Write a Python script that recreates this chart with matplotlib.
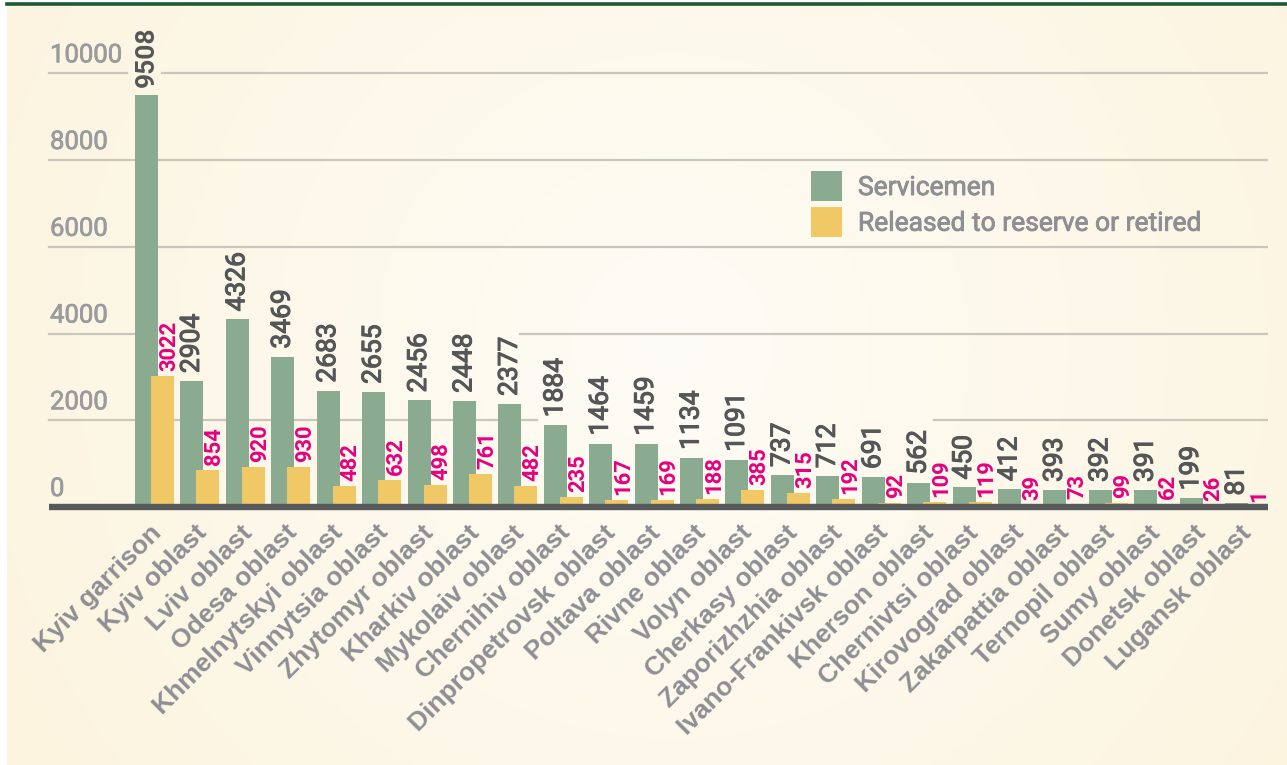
import numpy as np
import matplotlib
matplotlib.use("Agg")
import matplotlib.pyplot as plt
from matplotlib.lines import Line2D
import matplotlib.patheffects as pe

categories = ["Kyiv garrison", "Kyiv oblast", "Lviv oblast", "Odesa oblast",
              "Khmelnytskyi oblast", "Vinnytsia oblast", "Zhytomyr oblast",
              "Kharkiv oblast", "Mykolaiv oblast", "Chernihiv oblast",
              "Dinpropetrovsk oblast", "Poltava oblast", "Rivne oblast",
              "Volyn oblast", "Cherkasy oblast", "Zaporizhzhia oblast",
              "Ivano-Frankivsk oblast", "Kherson oblast", "Chernivtsi oblast",
              "Kirovograd oblast", "Zakarpattia oblast", "Ternopil oblast",
              "Sumy oblast", "Donetsk oblast", "Lugansk oblast"]
servicemen = [9508, 2904, 4326, 3469, 2683, 2655, 2456, 2448, 2377, 1884,
              1464, 1459, 1134, 1091, 737, 712, 691, 562, 450, 412, 393,
              392, 391, 199, 81]
released = [3022, 854, 920, 930, 482, 632, 498, 761, 482, 235, 167, 169,
            188, 385, 315, 192, 92, 109, 119, 39, 73, 99, 62, 26, 1]
yticks = [0, 2000, 4000, 6000, 8000, 10000]
series_names = ["Servicemen", "Released to reserve or retired"]

W, H = 1287, 765
fig = plt.figure(figsize=(W / 100, H / 100), dpi=100)
fig.patch.set_facecolor("white")

# background radial gradient
BX0, BY0 = 7, 5
c_in = np.array([254, 252, 246]) / 255
c_out = np.array([252, 244, 222]) / 255
cx, cy = 0.52, 0.45
bg = fig.add_axes([BX0 / W, 0, (W - BX0) / W, 1 - BY0 / H])
bg.set_axis_off()
yy, xx = np.mgrid[0:300, 0:500]
d = np.sqrt((xx / 499 - cx) ** 2 + ((yy / 299 - cy) * 0.6) ** 2)
d = np.clip(d / 0.62, 0, 1)[..., None]
img = c_in * (1 - d) + c_out * d
bg.imshow(img, aspect="auto", extent=[0, 1, 0, 1], origin="upper")
bg.set_xlim(0, 1)
bg.set_ylim(0, 1)

# top dark green line
fig.add_artist(Line2D([BX0 / W, 1], [1 - 4 / H, 1 - 4 / H], color="#1d5a32",
                      lw=2.6, transform=fig.transFigure))

# main axes: 0 at y=507px, 10000 at 73.3px
zero_px, top_px = 507, 20
scale = (507 - 73.3) / 10000
left_px, right_px = 47, 1268
ax = fig.add_axes([left_px / W, (H - zero_px) / H, (right_px - left_px) / W,
                   (zero_px - top_px) / H])
ax.patch.set_alpha(0)
ax.set_ylim(0, (zero_px - top_px) / scale)
step = 45.42
g0 = 146.5
ax.set_xlim(-(g0 - left_px) / step, (right_px - g0) / step)
for s in ax.spines.values():
    s.set_visible(False)
ax.set_xticks([])
ax.set_yticks([])


def fx(px):
    return (px - left_px) / (right_px - left_px)


def medium(color, lw=0.6):
    return [pe.withStroke(linewidth=lw, foreground=color)]


# gridlines (with the gaps seen in the design)
grid_segments = {2000: [(49, 537), (934, 1268)],
                 4000: [(49, 135), (520, 1268)],
                 6000: [(49, 1268)],
                 8000: [(49, 1268)],
                 10000: [(49, 127), (162, 1268)]}
for v in yticks[1:]:
    for a, b in grid_segments[v]:
        ax.axhline(v, xmin=fx(a), xmax=fx(b), color="#c9c6bd", lw=1.6, zorder=1)
tick_c = "#9a9b9e"
for v in yticks:
    ax.annotate(f"{v}", xy=(0, v), xycoords=("axes fraction", "data"),
                xytext=(3 * 0.72, 6 * 0.72), textcoords="offset points",
                ha="left", va="bottom", fontsize=18.5, family="Roboto",
                color=tick_c, zorder=2, path_effects=medium(tick_c, 0.5))

x = np.arange(len(categories))
bw = 23 / step
off = 16 / step
green = "#8aab8f"
yellow = "#f0c866"

b1 = ax.bar(x, servicemen, width=bw, color=green, zorder=3, label=series_names[0])
b2 = ax.bar(x + off, released, width=bw, color=yellow, zorder=4, label=series_names[1])

val_c = "#555658"
for i in range(len(categories)):
    ax.annotate(f"{servicemen[i]}", xy=(x[i], servicemen[i]),
                xytext=(0, 8 * 0.72), textcoords="offset points",
                rotation=90, ha="center", va="bottom", fontsize=19,
                family="Roboto", weight="bold" if i == 0 else "normal",
                color=val_c, zorder=5,
                path_effects=None if i == 0 else medium(val_c, 0.8))
    ax.annotate(f"{released[i]}", xy=(x[i] + off, released[i]),
                xytext=(6.5 * 0.72, 5 * 0.72), textcoords="offset points",
                rotation=90, ha="center", va="bottom", fontsize=15.8,
                family="Roboto", weight="bold", color="#e6007e", zorder=6)
    ax.annotate(categories[i], xy=(x[i] + off / 2, 0),
                xytext=(3 * 0.72, -22 * 0.72), textcoords="offset points",
                rotation=45, rotation_mode="anchor", ha="right", va="center",
                fontsize=19, family="Liberation Sans", weight="bold",
                color="#8e8f94", annotation_clip=False)

# axis baseline
ax.plot([fx(49), 1], [0, 0], transform=ax.get_yaxis_transform(),
        color="#58595b", lw=4.6, solid_capstyle="butt", zorder=7, clip_on=False)

fs_leg = 19
leg = ax.legend(handles=[b1, b2], loc="upper left",
                bbox_to_anchor=(811 / W, 1 - 171 / H), bbox_transform=fig.transFigure,
                frameon=False, borderpad=0, borderaxespad=0,
                prop=dict(family="Roboto", size=fs_leg),
                handlelength=1.16, handleheight=1.4, handletextpad=0.62,
                labelspacing=0.2)
leg_c = "#8e8f94"
for t in leg.get_texts():
    t.set_color(leg_c)
    t.set_path_effects(medium(leg_c, 0.6))

fig.savefig("out.png", dpi=100, facecolor=fig.get_facecolor())
